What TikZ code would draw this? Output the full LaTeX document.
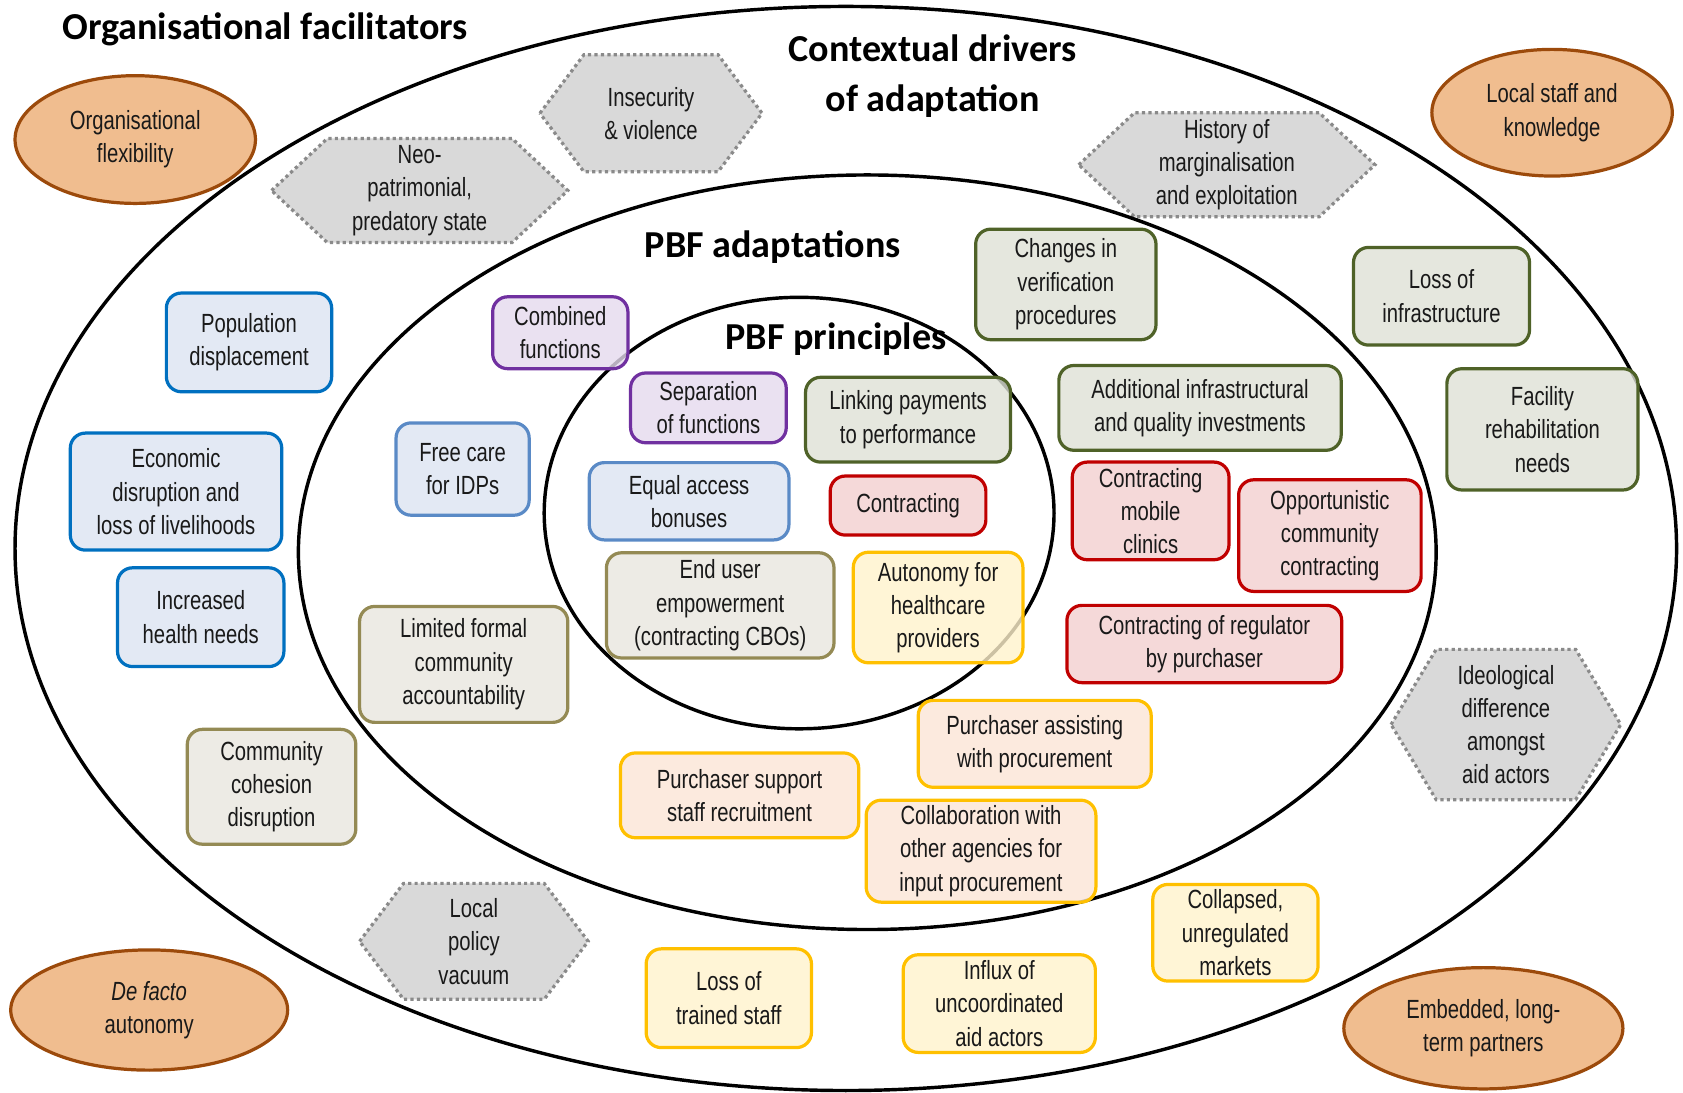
\documentclass[tikz,border=0pt]{standalone}
\usepackage{fontspec}
\setmainfont{Liberation Sans}[FakeStretch=0.77]
\newfontfamily\titlefont{Carlito}
\usetikzlibrary{shapes.geometric,calc,backgrounds}

% Colores
\definecolor{azulfill}{HTML}{DCE4F1}
\definecolor{azulline}{HTML}{0070C0}
\definecolor{celeste}{HTML}{5A8AC6}
\definecolor{moradofill}{HTML}{E5DAEE}
\definecolor{moradoline}{HTML}{7030A0}
\definecolor{verdefill}{HTML}{DEE1D6}
\definecolor{verdeline}{HTML}{4F6228}
\definecolor{rojofill}{HTML}{F2D0D0}
\definecolor{rojoline}{HTML}{C00000}
\definecolor{cakifill}{HTML}{E8E6DE}
\definecolor{cakiline}{HTML}{948A54}
\definecolor{amarillofill}{HTML}{FFF2CC}
\definecolor{amarilloline}{HTML}{FFC000}
\definecolor{durazno}{HTML}{FBE5D6}
\definecolor{naranja}{HTML}{F0BD8F}
\definecolor{cafe}{HTML}{9C4A0B}
\definecolor{gris}{HTML}{D9D9D9}
\definecolor{grisline}{HTML}{8A8A8A}

\tikzset{
  texto/.style={font=\fontsize{24.5}{31}\selectfont, align=center, text=black!90},
  caja/.style={texto, draw, rounded corners=14, line width=3, fill opacity=.8,
    text opacity=1, inner sep=2, outer sep=0},
  azul/.style={caja, draw=azulline, fill=azulfill},
  celestebox/.style={caja, draw=celeste, fill=azulfill},
  morado/.style={caja, draw=moradoline, fill=moradofill},
  verde/.style={caja, draw=verdeline, fill=verdefill},
  rojo/.style={caja, draw=rojoline, fill=rojofill},
  caki/.style={caja, draw=cakiline, fill=cakifill},
  amarillo/.style={caja, draw=amarilloline, fill=amarillofill},
  compra/.style={caja, draw=amarilloline, fill=durazno},
  facilitador/.style={texto, ellipse, draw=cafe, fill=naranja, line width=3, inner sep=0},
  contexto/.style={texto, inner sep=0, outer sep=0},
  hexline/.style={fill=gris, draw=grisline, line width=3, dash pattern=on 3pt off 3pt},
  titulo/.style={font=\titlefont\bfseries\fontsize{35.5}{46}\selectfont, align=center},
  linea/.style={line width=3.2, black}
}

% Hexagono alrededor de un nodo: nombre, entrada lateral
\newcommand{\hexagono}[2]{%
  \path[hexline] (#1.west) -- ($(#1.north west)+(#2,0)$) -- ($(#1.north east)+(-#2,0)$)
    -- (#1.east) -- ($(#1.south east)+(-#2,0)$) -- ($(#1.south west)+(#2,0)$) -- cycle;}

\begin{document}
\begin{tikzpicture}[x=1pt, y=-1pt]
    \useasboundingbox (0,0) rectangle (1568,1018);
    % Elipses grandes
    \draw[linea] (788,511) ellipse [x radius=774, y radius=505];
    \draw[linea] (808,514.5) ellipse [x radius=530, y radius=351.5];
    \draw[linea] (744.5,478) ellipse [x radius=237.5, y radius=201];
    % Titulos
    \node[titulo] (tfacil) at (247,27) {Organisational facilitators};
    \node[titulo] (tcontexto) at (869,71) {Contextual drivers\\of adaptation};
    \node[titulo] (tadapt) at (720,230) {PBF adaptations};
    \node[titulo] (tprinc) at (779,316) {PBF principles};
    % Facilitadores
    \node[facilitador, minimum width=224, minimum height=119] (orgflex) at (126,130) {Organisational\\flexibility};
    \node[facilitador, minimum width=224, minimum height=118] (localstaff) at (1446,105) {Local staff and\\knowledge};
    \node[facilitador, minimum width=258, minimum height=112] (defacto) at (139,941) {\textit{De facto}\\autonomy};
    \node[facilitador, minimum width=260, minimum height=113] (embedded) at (1382,958) {Embedded, long-\\term partners};
    % Factores de contexto
    \node[contexto, minimum width=207, minimum height=109] (insec) at (606.5,105.5) {Insecurity\\\& violence};
    \node[contexto, minimum width=276, minimum height=97] (neopat) at (391,177.5) {Neo-\\patrimonial,\\predatory state};
    \node[contexto, minimum width=276, minimum height=97] (history) at (1143,153.5) {History of\\marginalisation\\and exploitation};
    \node[contexto, minimum width=214, minimum height=140] (ideol) at (1403,675) {Ideological\\difference\\amongst\\aid actors};
    \node[contexto, minimum width=213, minimum height=108] (policy) at (441.5,877) {Local\\policy\\vacuum};
    \begin{scope}[on background layer]
        \foreach \n/\d in {insec/41, neopat/52, history/52, ideol/42, policy/41}
            \hexagono{\n}{\d};
    \end{scope}
    % Cajas azules
    \node[azul, minimum width=154, minimum height=92] (popdisp) at (232,319) {Population\\displacement};
    \node[azul, minimum width=197, minimum height=109] (econ) at (164,458) {Economic\\disruption and\\loss of livelihoods};
    \node[azul, minimum width=155, minimum height=92] (health) at (187,575) {Increased\\health needs};
    \node[celestebox, minimum width=124, minimum height=86] (freecare) at (431,437) {Free care\\for IDPs};
    \node[celestebox, minimum width=186, minimum height=72] (equal) at (642,467) {Equal access\\bonuses};
    % Cajas moradas
    \node[morado, minimum width=126, minimum height=67] (combined) at (522,310) {Combined\\functions};
    \node[morado, minimum width=145, minimum height=65] (separation) at (660,380) {Separation\\of functions};
    % Cajas verdes
    \node[verde, minimum width=191, minimum height=79] (linking) at (846,391) {Linking payments\\to performance};
    \node[verde, minimum width=168, minimum height=103] (verif) at (993,265) {Changes in\\verification\\procedures};
    \node[verde, minimum width=263, minimum height=79] (addinfra) at (1118,380) {Additional infrastructural\\and quality investments};
    \node[verde, minimum width=164, minimum height=91] (lossinfra) at (1343,276) {Loss of\\infrastructure};
    \node[verde, minimum width=178, minimum height=113] (rehab) at (1437,400) {Facility\\rehabilitation\\needs};
    % Cajas rojas
    \node[rojo, minimum width=145, minimum height=55] (contracting) at (846,471) {Contracting};
    \node[rojo, minimum width=146, minimum height=91] (mobile) at (1072,476) {Contracting\\mobile\\clinics};
    \node[rojo, minimum width=170, minimum height=104] (opport) at (1239,499) {Opportunistic\\community\\contracting};
    \node[rojo, minimum width=256, minimum height=72] (regulator) at (1122,600) {Contracting of regulator\\by purchaser};
    % Cajas caqui
    \node[caki, minimum width=212, minimum height=98] (enduser) at (671,564) {End user\\empowerment\\(contracting CBOs)};
    \node[caki, minimum width=194, minimum height=108] (limited) at (432,619) {Limited formal\\community\\accountability};
    \node[caki, minimum width=157, minimum height=107] (cohesion) at (253,733) {Community\\cohesion\\disruption};
    % Cajas amarillas
    \node[amarillo, minimum width=158, minimum height=103] (autonomy) at (874,566) {Autonomy for\\healthcare\\providers};
    \node[amarillo, minimum width=154, minimum height=92] (trained) at (679,930) {Loss of\\trained staff};
    \node[amarillo, minimum width=179, minimum height=91] (influx) at (931,935) {Influx of\\uncoordinated\\aid actors};
    \node[amarillo, minimum width=154, minimum height=90] (markets) at (1151,869) {Collapsed,\\unregulated\\markets};
    \node[compra, minimum width=217, minimum height=81] (assisting) at (964,693) {Purchaser assisting\\with procurement};
    \node[compra, minimum width=222, minimum height=79] (recruit) at (689,741) {Purchaser support\\staff recruitment};
    \node[compra, minimum width=214, minimum height=95] (collab) at (914,793) {Collaboration with\\other agencies for\\input procurement};
\end{tikzpicture}
\end{document}
